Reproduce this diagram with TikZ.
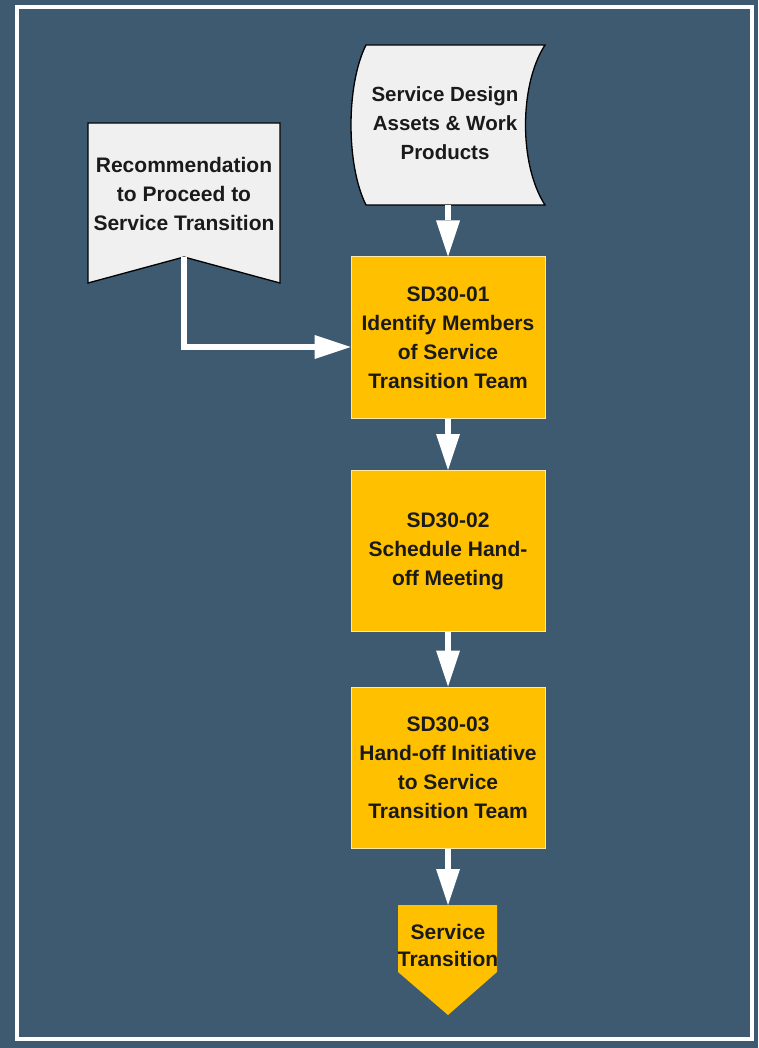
\documentclass[tikz,border=0pt]{standalone}
\usepackage{fontspec}
\setmainfont{Liberation Sans}
\usetikzlibrary{arrows.meta}
\definecolor{slate}{HTML}{3D5A71}
\definecolor{amber}{HTML}{FFC000}
\definecolor{paper}{HTML}{F0F0F0}
\definecolor{ink}{HTML}{1A1A1A}
\begin{document}
\begin{tikzpicture}[x=1pt,y=-1pt,
  txt/.style={font=\bfseries\fontsize{21}{29}\selectfont, text=ink, align=center, inner sep=0pt},
  procbox/.style={txt, rectangle, fill=amber, draw=amber!35!white, line width=1pt, minimum width=194pt, minimum height=161pt},
  docshape/.style={fill=paper, draw=black, line width=1.3pt},
  flow/.style={draw=white, line width=5.5pt, -{Triangle[length=36pt,width=24pt,line width=0pt]}}]
\useasboundingbox (0,0) rectangle (758,1048);

% Background and frame
\fill[slate] (0,0) rectangle (758,1048);
\draw[white, line width=4pt] (17,7) rectangle (752,1039);

% Define coordinates
\coordinate (sdabase) at (448,205);
\coordinate (recnotch) at (184,257);
\coordinate (sttop) at (448,905);

% Draw the input shapes
\draw[docshape] (366,45) -- (545,45) .. controls (519,85) and (519,165) .. (545,205) -- (366,205) .. controls (346,165) and (346,85) .. (366,45) -- cycle; % Stored data
\draw[docshape] (88,123) -- (280,123) -- (280,283) -- (184,257) -- (88,283) -- cycle; % Banner
\fill[amber] (398,905) -- (497,905) -- (497,972) -- (448,1015) -- (398,972) -- cycle; % Off-page

% Add labels
\node[txt, font=\bfseries\fontsize{20.5}{29}\selectfont] (sda) at (445,123) {Service Design\\Assets \& Work\\Products};
\node[txt] (rec) at (184,194) {Recommendation\\to Proceed to\\Service Transition};
\node[txt, font=\bfseries\fontsize{21}{27}\selectfont] (st) at (448,945) {Service\\Transition};

% Process steps
\node[procbox] (box1) at (448,337.5) {SD30-01\\Identify Members\\of Service\\Transition Team};
\node[procbox] (box2) at (448,551) {SD30-02\\Schedule Hand-\\off Meeting};
\node[procbox] (box3) at (448,767.5) {SD30-03\\Hand-off Initiative\\to Service\\Transition Team};

% Draw the arrows
\draw[flow] (sdabase) -- (box1.north);
\draw[flow] (recnotch) |- ([yshift=-9.5pt]box1.west);
\draw[flow] (box1.south) -- (box2.north);
\draw[flow] (box2.south) -- (box3.north);
\draw[flow] (box3.south) -- (sttop);

\end{tikzpicture}
\end{document}
